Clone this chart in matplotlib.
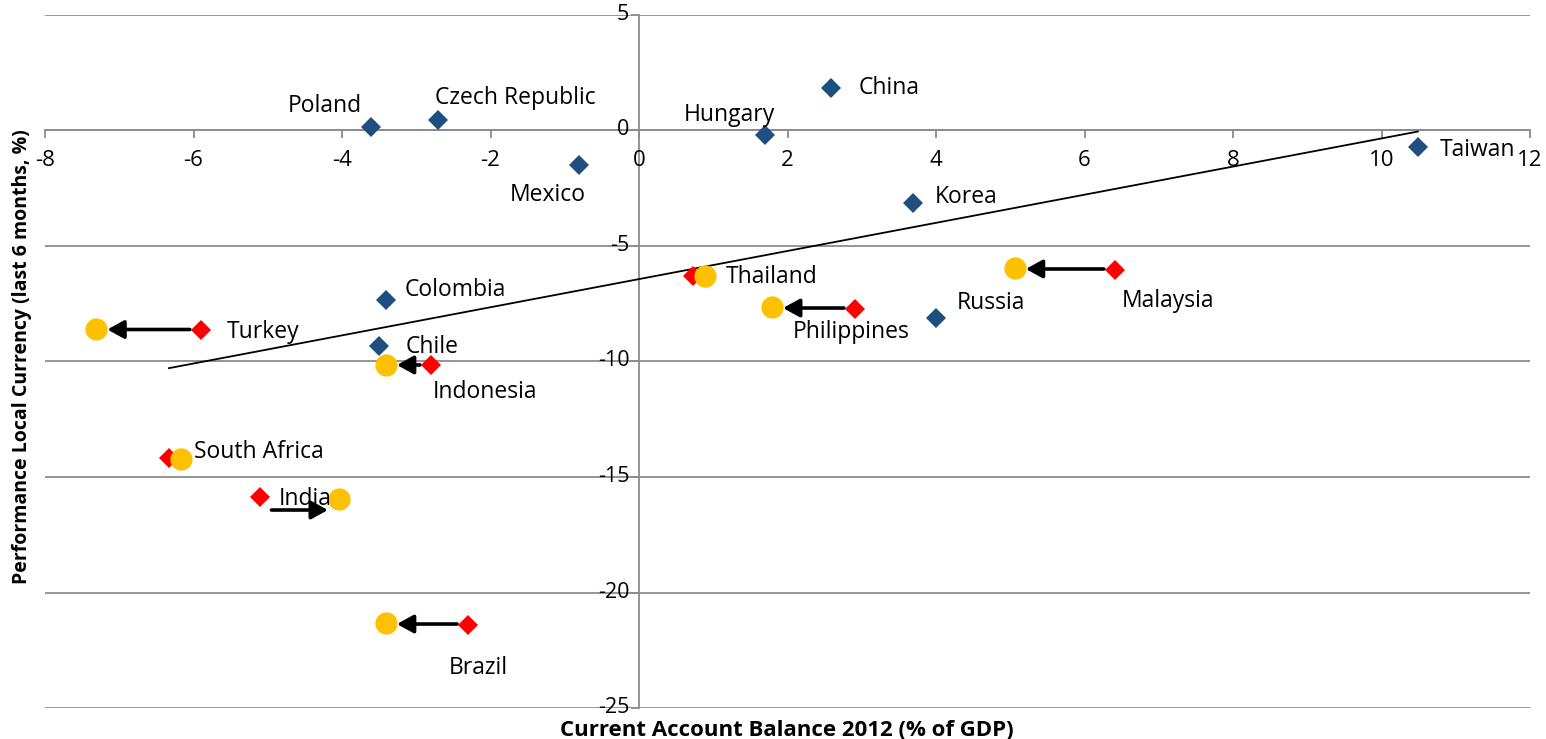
import numpy as np
import matplotlib
matplotlib.use("Agg")
import matplotlib.pyplot as plt
from matplotlib.transforms import offset_copy, ScaledTranslation

plt.rcParams['font.family'] = ['Open Sans', 'DejaVu Sans']

# Countries with no change in current-account estimate
stable_names = ["Poland", "Czech Republic", "Mexico", "Hungary", "China", "Korea",
                "Taiwan", "Russia", "Colombia", "Chile"]
stable_ca = [-3.61, -2.71, -0.81, 1.70, 2.59, 3.69, 10.49, 4.00, -3.41, -3.50]
stable_perf = [0.15, 0.45, -1.49, -0.19, 1.84, -3.14, -0.71, -8.12, -7.34, -9.33]

# Countries whose current-account estimate was revised (old -> new)
moved_names = ["Turkey", "Indonesia", "South Africa", "India", "Brazil",
               "Thailand", "Philippines", "Malaysia"]
moved_ca_old = [-5.90, -2.80, -6.33, -5.10, -2.30, 0.73, 2.91, 6.41]
moved_ca_new = [-7.31, -3.41, -6.17, -4.04, -3.41, 0.89, 1.79, 5.06]
moved_perf_old = [-8.64, -10.15, -14.18, -15.87, -21.41, -6.30, -7.73, -6.04]
moved_perf_new = [-8.59, -10.15, -14.22, -15.95, -21.32, -6.30, -7.64, -5.95]

x_ticks = [-8, -6, -4, -2, 0, 2, 4, 6, 8, 10, 12]
y_ticks = [5, 0, -5, -10, -15, -20, -25]

BLUE = "#1F4E80"
RED = "#FF0000"
GOLD = "#FFC000"
GRID = "#8C8C8C"
LABEL_SIZE = 16.5

fig = plt.figure(figsize=(15.46, 7.39), dpi=100)
ax = fig.add_axes([45 / 1546, 31 / 739, 1485 / 1546, 693 / 739])
ax.set_xlim(-8, 12)
ax.set_ylim(-25, 5)

# horizontal gridlines
for yv in y_ticks:
    ax.axhline(yv, color=GRID, lw=1.3, zorder=0)

# axes crossing at the origin
for s in ["top", "right"]:
    ax.spines[s].set_visible(False)
ax.spines["left"].set_position(("data", 0))
ax.spines["bottom"].set_position(("data", 0))
for s in ["left", "bottom"]:
    ax.spines[s].set_color(GRID)
    ax.spines[s].set_linewidth(1.3)
    ax.spines[s].set_zorder(0.5)

ax.set_xticks(x_ticks)
ax.set_yticks(y_ticks)
ax.set_xticklabels([str(v) for v in x_ticks])
ax.set_yticklabels([str(v) for v in y_ticks])
ax.tick_params(axis="x", direction="out", length=6, width=1.3, color=GRID,
               pad=8, labelsize=16)
ax.tick_params(axis="y", direction="out", length=6, width=1.3, color=GRID,
               pad=1, labelsize=15.5)
# y tick labels sit slightly above their gridlines
lift = ScaledTranslation(0, 3 / 100, fig.dpi_scale_trans)
for lab in ax.get_yticklabels():
    lab.set_transform(lab.get_transform() + lift)

# regression line through the pre-revision observations
x_old = np.array(stable_ca + moved_ca_old)
y_old = np.array(stable_perf + moved_perf_old)
slope, intercept = np.polyfit(x_old, y_old, 1)
xs = np.array([x_old.min(), x_old.max()])
ax.plot(xs, slope * xs + intercept, color="black", lw=1.3, zorder=2)

# markers
ax.plot(stable_ca, stable_perf, "D", color=BLUE, ms=10.5, mew=0, zorder=4)
ax.plot(moved_ca_old, moved_perf_old, "D", color=RED, ms=10.5, mew=0, zorder=4)
ax.plot(moved_ca_new, moved_perf_new, "o", color=GOLD, ms=16, mew=0, zorder=5)

# revision arrows, drawn horizontally (India's sits below its markers)
arrow_dy = {"India": -12}
for name, x0, y0, x1, y1 in zip(moved_names, moved_ca_old, moved_perf_old,
                                moved_ca_new, moved_perf_new):
    if name in ("South Africa", "Thailand"):
        continue
    ym = (y0 + y1) / 2
    tr = offset_copy(ax.transData, fig=fig, x=0, y=arrow_dy.get(name, 0),
                     units="dots")
    ax.annotate("", xy=(x1, ym), xytext=(x0, ym), xycoords=tr, textcoords=tr,
                arrowprops=dict(arrowstyle="-|>,head_length=1.0,head_width=0.55",
                                color="black", lw=2.6, shrinkA=8, shrinkB=8),
                zorder=3)

# data labels: (dx, dy) offsets in pixels and horizontal alignment
stable_lbl = {
    "Poland": (-46, 21, "center"),
    "Czech Republic": (-3, 22, "left"),
    "Mexico": (-31, -30, "center"),
    "Hungary": (-36, 20, "center"),
    "China": (27, 0, "left"),
    "Korea": (22, 6, "left"),
    "Taiwan": (22, -3, "left"),
    "Russia": (21, 15, "left"),
    "Colombia": (19, 10, "left"),
    "Chile": (26, -1, "left"),
}
moved_lbl = {
    "Turkey": ("old", 26, -2, "left"),
    "Indonesia": ("old", 2, -27, "left"),
    "South Africa": ("new", 13, 7, "left"),
    "India": ("old", 18, -2, "left"),
    "Brazil": ("old", -19, -43, "left"),
    "Thailand": ("new", 21, -1, "left"),
    "Philippines": ("old", -62, -23, "left"),
    "Malaysia": ("old", 7, -31, "left"),
}
for name, x, y in zip(stable_names, stable_ca, stable_perf):
    dx, dy, ha = stable_lbl[name]
    ax.annotate(name, (x, y), xytext=(dx, dy), textcoords="offset pixels",
                ha=ha, va="center", fontsize=LABEL_SIZE, zorder=6)
for name, xo, yo, xn, yn in zip(moved_names, moved_ca_old, moved_perf_old,
                                moved_ca_new, moved_perf_new):
    which, dx, dy, ha = moved_lbl[name]
    pt = (xo, yo) if which == "old" else (xn, yn)
    ax.annotate(name, pt, xytext=(dx, dy), textcoords="offset pixels",
                ha=ha, va="center", fontsize=LABEL_SIZE, zorder=6)

fig.text(787 / 1546, 1 - 730 / 739, "Current Account Balance 2012 (% of GDP)",
         ha="center", va="center", fontsize=16, fontweight="bold")
fig.text(22 / 1546, 1 - 357 / 739, "Performance Local Currency (last 6 months, %)",
         ha="center", va="center", rotation=90, fontsize=14, fontweight="bold")

fig.savefig("out.png", dpi=100)
